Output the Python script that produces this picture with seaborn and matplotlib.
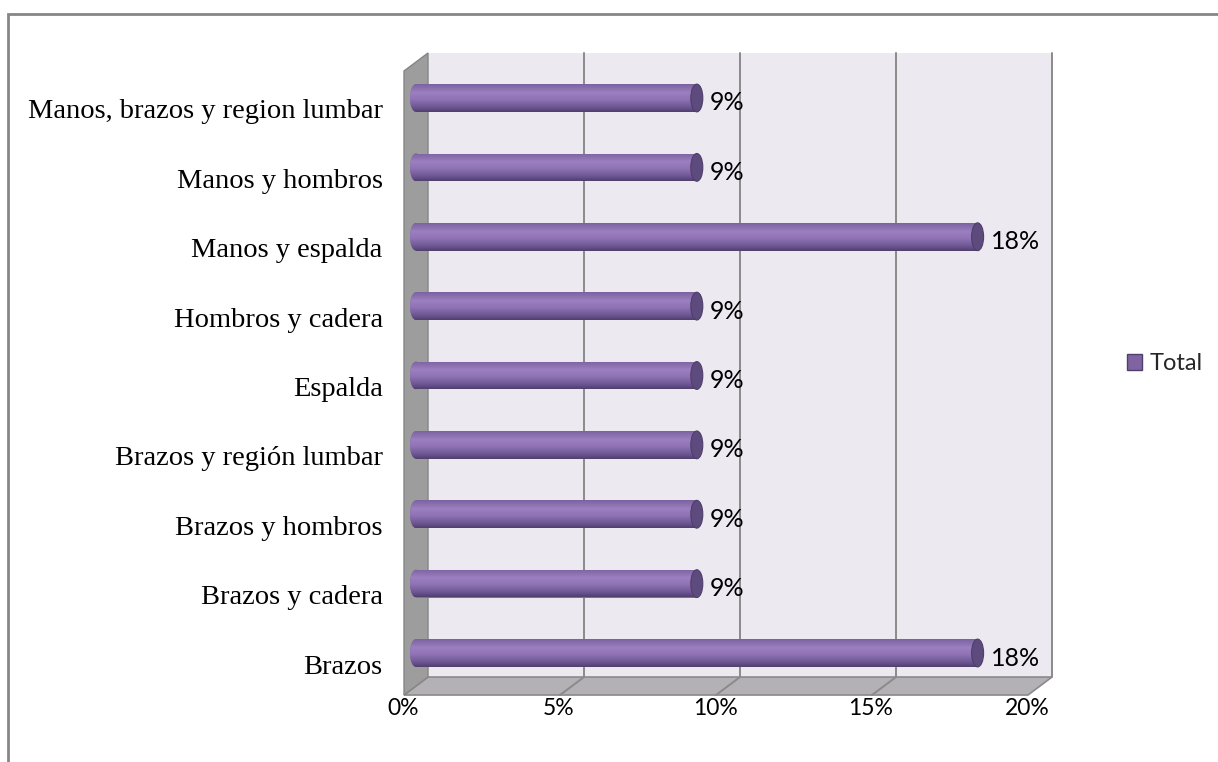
import numpy as np
import pandas as pd
import matplotlib
matplotlib.use("Agg")
import matplotlib.pyplot as plt
import seaborn as sns
from matplotlib.patches import Polygon, Ellipse, Patch, Rectangle
from matplotlib.colors import LinearSegmentedColormap
from matplotlib.transforms import ScaledTranslation

# ---- data -------------------------------------------------------------
categories = ["Manos, brazos y region lumbar", "Manos y hombros", "Manos y espalda",
              "Hombros y cadera", "Espalda", "Brazos y región lumbar",
              "Brazos y hombros", "Brazos y cadera", "Brazos"]
values = [9, 9, 18, 9, 9, 9, 9, 9, 18]
x_ticks = [0, 5, 10, 15, 20]
tick_labels = ["0%", "5%", "10%", "15%", "20%"]
series_name = "Total"

# ---- style ------------------------------------------------------------
sns.set_theme(style="white")
plt.rcParams["font.family"] = ["Lato", "DejaVu Sans"]

BAR = "#8064A2"
CAP = "#5E4B7E"
WALL = "#ECE9F1"
SIDE = "#9D9D9D"
FLOOR = "#B3B1B6"
GRID = "#8A8A8A"

W, H = 1218, 762
fig = plt.figure(figsize=(W / 100, H / 100), dpi=100)

# layout of the plotting area in pixels
x_px0, px_per_pct = 416, 31.2
y_px0, px_per_cat = 98, 69.375
xlim = (-0.8, 21.0)
ylim = (8.55, -0.9)


def px_x(v):
    return x_px0 + px_per_pct * v


def px_y(v):
    return y_px0 + px_per_cat * v


left, right = px_x(xlim[0]) / W, px_x(xlim[1]) / W
top, bottom = 1 - px_y(ylim[1]) / H, 1 - px_y(ylim[0]) / H
ax = fig.add_axes([left, bottom, right - left, top - bottom])
ax.set_facecolor("none")

# depth offsets of the 3-D box (back plane = +, front plane = -)
ox = 12 / px_per_pct
oy = 9 / px_per_cat
y_top = -0.519
y_floor = 8.476
xmax = x_ticks[-1]

# back wall
ax.add_patch(Rectangle((ox, y_top - oy), xmax, y_floor - y_top, facecolor=WALL,
                       edgecolor="none", zorder=1, clip_on=False))
for t in x_ticks[1:]:
    ax.plot([t + ox, t + ox], [y_top - oy, y_floor - oy], color=GRID, lw=1.4,
            zorder=2, clip_on=False)

# floor
ax.add_patch(Polygon([(ox, y_floor - oy), (xmax + ox, y_floor - oy),
                      (xmax - ox, y_floor + oy), (-ox, y_floor + oy)],
                     closed=True, facecolor=FLOOR, edgecolor=GRID, lw=1.2,
                     zorder=2, clip_on=False))
for t in x_ticks[1:-1]:
    ax.plot([t + ox, t - ox], [y_floor - oy, y_floor + oy], color=GRID, lw=1.4,
            zorder=2.5, clip_on=False)

# side wall
ax.add_patch(Polygon([(ox, y_top - oy), (ox, y_floor - oy),
                      (-ox, y_floor + oy), (-ox, y_top + oy)],
                     closed=True, facecolor=SIDE, edgecolor="#858585", lw=1.0,
                     zorder=3, clip_on=False))

# ---- bars -------------------------------------------------------------
df = pd.DataFrame({"Zona": categories, "Porcentaje": values})
sns.barplot(data=df, x="Porcentaje", y="Zona", orient="h", color=BAR, width=0.4,
            linewidth=0, ax=ax, zorder=5)

shade = LinearSegmentedColormap.from_list(
    "cyl", [(0.0, "#7A62A0"), (0.3, "#9B7FC0"), (0.55, "#8F73B4"),
            (0.85, "#6A5490"), (1.0, "#4F3F6C")])
grad = np.linspace(0, 1, 120).reshape(-1, 1)
ew = 6 / px_per_pct  # half-width of the end ellipses

for patch, v in zip(ax.patches[-len(values):], values):
    x0, y0 = patch.get_x(), patch.get_y()
    w, h = patch.get_width(), patch.get_height()
    yc = y0 + h / 2
    # rounded left end
    lcap = Ellipse((x0, yc), 2 * ew, h, facecolor=BAR, lw=0, zorder=4.8)
    ax.add_patch(lcap)
    for clip in (patch, lcap):
        im = ax.imshow(grad, cmap=shade, aspect="auto", interpolation="bilinear",
                       extent=(x0 - ew, x0 + w, y0 + h, y0), zorder=5.5)
        im.set_clip_path(clip)
    # flat right end
    ax.add_patch(Ellipse((x0 + w, yc), 2 * ew, h, facecolor=CAP,
                         edgecolor="#4E3E6A", lw=0.8, zorder=6))
    t = ax.text(v + 0.42, yc, f"{v}%", ha="left", va="center", fontsize=18,
                color="black", zorder=7)
    t.set_transform(t.get_transform() +
                    ScaledTranslation(0, -0.05, fig.dpi_scale_trans))

# ---- axes -------------------------------------------------------------
ax.set_xlim(*xlim)
ax.set_ylim(*ylim)
ax.set_xlabel("")
ax.set_ylabel("")
for s in ax.spines.values():
    s.set_visible(False)
ax.grid(False)
ax.set_xticks(x_ticks)
ax.set_xticklabels(tick_labels, fontsize=16.5, color="black")
ax.tick_params(axis="x", length=0, pad=5, labelcolor="black")
ax.tick_params(axis="y", length=0, pad=6, labelcolor="black")
for lab in ax.get_yticklabels():
    lab.set_fontfamily(["Liberation Serif", "DejaVu Serif"])
    lab.set_fontsize(20.5)
    lab.set_color("black")
    lab.set_transform(lab.get_transform() +
                      ScaledTranslation(0, -0.11, fig.dpi_scale_trans))
for lab in ax.get_xticklabels():
    lab.set_transform(lab.get_transform() +
                      ScaledTranslation(-0.13, 0, fig.dpi_scale_trans))

# legend
fig.legend(handles=[Patch(facecolor=BAR, edgecolor="#4F3F6C", lw=1)],
           labels=[series_name], loc="center left",
           bbox_to_anchor=(1127 / W, 1 - 364 / H), frameon=False, fontsize=17,
           handlelength=0.65, handleheight=0.65, handletextpad=0.3,
           borderaxespad=0, borderpad=0)

# outer chart frame
fig.add_artist(Rectangle((8 / W, -0.1), 1.2, 1 - 14 / H + 0.1,
                         transform=fig.transFigure, fill=False,
                         edgecolor="#868686", lw=2))

fig.savefig("out.png", dpi=100)
